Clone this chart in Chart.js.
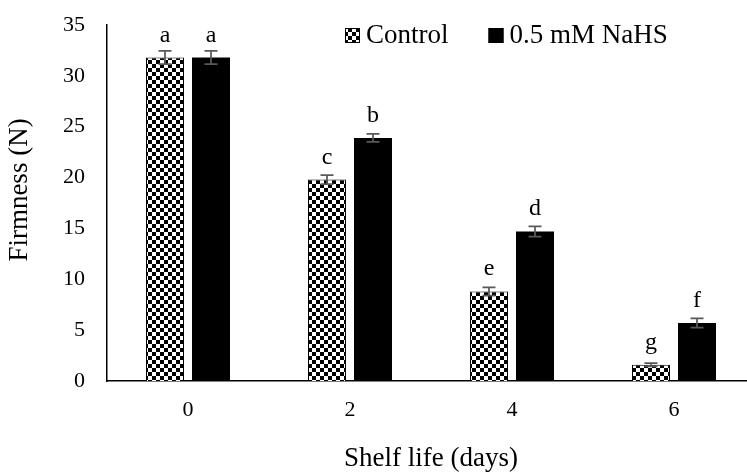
<!DOCTYPE html>
<html>
<head>
<meta charset="utf-8">
<script src="https://cdn.jsdelivr.net/npm/chart.js@4/dist/chart.umd.min.js"></script>
<style>
  body { margin: 0; overflow: hidden; background: #fff; }
</style>
</head>
<body>
<canvas id="chart" width="755" height="472"></canvas>
<script>
const days = ["0", "2", "4", "6"];
const control = [31.8, 19.8, 8.8, 1.6];
const nahs = [31.8, 23.9, 14.7, 5.7];
const controlErr = [0.65, 0.45, 0.4, 0.15];
const nahsErr = [0.65, 0.4, 0.5, 0.45];
const controlLetters = ["a", "c", "e", "g"];
const nahsLetters = ["a", "b", "d", "f"];
const seriesNames = ["Control", "0.5 mM NaHS"];
const yTitle = "Firmness (N)";

const serif = "'Liberation Serif', 'Times New Roman', serif";

// checkerboard fill like the Excel pattern
const makeChecker = function () {
  const c = document.createElement("canvas");
  c.width = 8;
  c.height = 8;
  const g = c.getContext("2d");
  g.fillStyle = "#fff";
  g.fillRect(0, 0, 8, 8);
  g.fillStyle = "#000";
  g.fillRect(0, 0, 4, 4);
  g.fillRect(4, 4, 4, 4);
  return g.createPattern(c, "repeat");
};
const checker = makeChecker();

const errs = [controlErr, nahsErr];
const letters = [controlLetters, nahsLetters];

const errorBars = {
  id: "errorBars",
  afterDatasetsDraw(chart) {
    const ctx = chart.ctx;
    const y = chart.scales.y;
    ctx.save();
    chart.data.datasets.forEach((ds, i) => {
      chart.getDatasetMeta(i).data.forEach((bar, j) => {
        const v = ds.data[j];
        const e = errs[i][j];
        const top = y.getPixelForValue(v + e);
        const bot = y.getPixelForValue(v - e);
        ctx.strokeStyle = "#595959";
        ctx.lineWidth = 1.75;
        ctx.beginPath();
        ctx.moveTo(bar.x, top);
        ctx.lineTo(bar.x, bot);
        ctx.moveTo(bar.x - 6.5, top);
        ctx.lineTo(bar.x + 6.5, top);
        ctx.moveTo(bar.x - 6.5, bot);
        ctx.lineTo(bar.x + 6.5, bot);
        ctx.stroke();

        ctx.fillStyle = "#000";
        ctx.font = "24px " + serif;
        ctx.textAlign = "center";
        ctx.textBaseline = "alphabetic";
        ctx.fillText(letters[i][j], bar.x, bar.y - 16);
      });
    });
    ctx.restore();
  },
};

const topLegend = {
  id: "topLegend",
  afterDraw(chart) {
    const ctx = chart.ctx;
    ctx.save();
    ctx.font = "27px " + serif;
    ctx.textBaseline = "alphabetic";
    ctx.textAlign = "left";
    let x = 345;
    chart.data.datasets.forEach((ds) => {
      ctx.fillStyle = ds.backgroundColor;
      ctx.fillRect(x, 28, 15, 15);
      ctx.strokeStyle = "#000";
      ctx.lineWidth = 1;
      ctx.strokeRect(x + 0.5, 28.5, 14, 14);
      ctx.fillStyle = "#000";
      ctx.fillText(ds.label, x + 21, 43);
      x += 21 + ctx.measureText(ds.label).width + 40;
    });

    // y axis title, sitting a bit above the plot's middle as in the original
    ctx.translate(20, 190);
    ctx.rotate(-Math.PI / 2);
    ctx.textAlign = "center";
    ctx.textBaseline = "middle";
    ctx.fillText(yTitle, 0, 0);
    ctx.restore();
  },
};

const ctx = document.querySelector("#chart").getContext("2d");

new Chart(ctx, {
  type: "bar",
  data: {
    labels: days,
    datasets: [
      {
        label: seriesNames[0],
        data: control,
        backgroundColor: checker,
        borderColor: "#000",
        borderWidth: 1,
      },
      {
        label: seriesNames[1],
        data: nahs,
        backgroundColor: "#000",
        borderColor: "#000",
        borderWidth: 0,
      },
    ],
  },
  options: {
    responsive: false,
    animation: false,
    categoryPercentage: 0.568,
    barPercentage: 0.826,
    layout: { padding: { top: 25, left: 0, right: 0, bottom: 0 } },
    plugins: {
      legend: { display: false },
      tooltip: { enabled: false },
    },
    scales: {
      x: {
        afterFit: (s) => { s.height = 91; },
        grid: { display: false, drawTicks: false },
        border: { display: true, color: "#000", width: 1.5 },
        ticks: { color: "#000", padding: 16, font: { family: serif, size: 22 } },
        title: {
          display: true,
          text: "Shelf life (days)",
          color: "#000",
          padding: { top: 0, bottom: 0 },
          font: { family: serif, size: 27, lineHeight: 1 },
        },
      },
      y: {
        min: 0,
        max: 35,
        afterFit: (s) => {
          s.width = 107;
          // tick padding is meant for the horizontal gap only
          s.paddingTop = 0;
          s.paddingBottom = 0;
        },
        grid: { display: false, drawTicks: false },
        border: { display: true, color: "#000", width: 1.5 },
        ticks: { stepSize: 5, color: "#000", padding: 22, font: { family: serif, size: 22 } },
      },
    },
  },
  plugins: [errorBars, topLegend],
});
</script>
</body>
</html>
